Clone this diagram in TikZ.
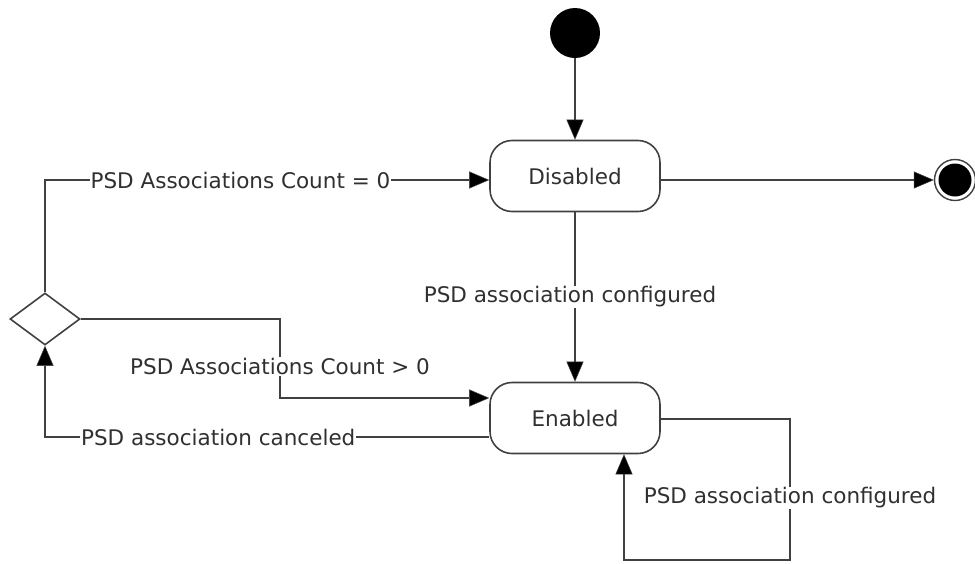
\documentclass[tikz,border=0pt]{standalone}
\usepackage{fontspec}
\setmainfont{DejaVu Sans}
\usetikzlibrary{arrows.meta,shapes.geometric}
\definecolor{lc}{HTML}{404040}
\definecolor{tc}{HTML}{303030}
\begin{document}
\begin{tikzpicture}[x=1pt,y=-1pt,
  every node/.style={font=\fontsize{21.5}{24}\selectfont, text=tc},
  stbox/.style={draw=lc, line width=1.6pt, rounded corners=22pt, minimum width=170pt, minimum height=71pt, inner sep=0pt},
  conn/.style={draw=lc, line width=1.6pt},
  arr/.style={conn, -{Triangle[length=20pt,width=17pt,fill=black,line width=0.5pt]}},
  lbl/.style={fill=white, inner sep=1pt}]
\useasboundingbox (0,0) rectangle (975,563);
\node[circle, fill=black, minimum size=50pt, inner sep=0pt] (start) at (575,33) {};
\node[stbox] (dis) at (575,176) {Disabled};
\node[stbox] (en) at (575,418) {Enabled};
\node[circle, draw=lc, line width=1.4pt, minimum size=41pt, inner sep=0pt] (endo) at (955,180) {};
\node[circle, fill=black, minimum size=33pt, inner sep=0pt] (endi) at (955,180) {};
\node[diamond, draw=lc, line width=1.6pt, minimum width=70pt, minimum height=52pt, inner sep=0pt, aspect=1.35] (dec) at (45,319) {};
\coordinate (c1) at (45,180);
\coordinate (c2) at (280,319);
\coordinate (c3) at (280,398);
\coordinate (c4) at (45,437);
\coordinate (c5) at (790,419);
\coordinate (c6) at (790,560);
\coordinate (c7) at (624,560);
\draw[arr] (start) -- (dis);
\draw[arr] (dis.east |- 0,180) -- (endo.west);
\draw[arr] (dis) -- node[lbl, pos=0.5, xshift=-5pt] {PSD association configured} (en);
\draw[arr] (dec.north) -- (c1) -- node[lbl, pos=0.44] {PSD Associations Count = 0} (dis.west |- c1);
\draw[arr] (dec.east) -- (c2) -- node[lbl, pos=0.6] {PSD Associations Count > 0} (c3) -- (en.west |- c3);
\draw[arr] (en.west |- c4) -- node[lbl, pos=0.61] {PSD association canceled} (c4) -- (dec.south);
\draw[arr] (en.east |- c5) -- (c5) -- node[lbl, pos=0.56] {PSD association configured} (c6) -- (c7) -- (c7 |- en.south);
\end{tikzpicture}
\end{document}
